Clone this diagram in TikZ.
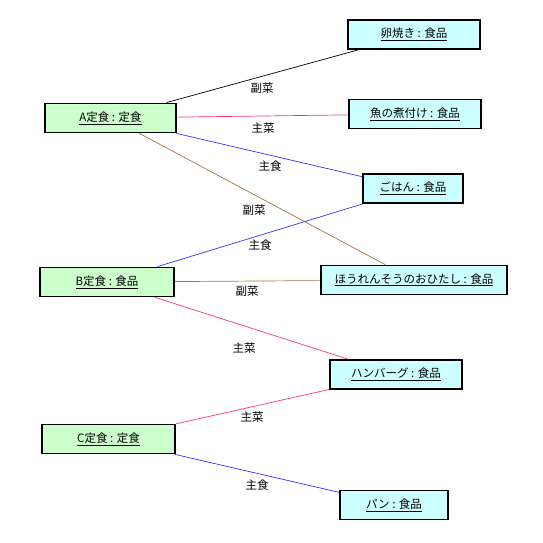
\documentclass[tikz,border=0pt]{standalone}
\usepackage{fontspec}
\newfontfamily\jp{Noto Sans CJK JP}
\definecolor{ctgreen}{HTML}{CCFFCC}
\definecolor{ctcyan}{HTML}{CCFFFF}
\definecolor{lnpink}{HTML}{FF3377}
\definecolor{lnblue}{HTML}{3333FF}
\definecolor{lnbrown}{HTML}{A07840}
\begin{document}
\begin{tikzpicture}[x=1pt,y=-1pt,
  obj/.style={draw=black,line width=1.8pt,minimum height=29pt,inner sep=0pt,font=\jp\fontsize{11.5}{13}\selectfont},
  setobj/.style={obj,fill=ctgreen},
  foodobj/.style={obj,fill=ctcyan},
  lbl/.style={font=\jp\fontsize{11.5}{13}\selectfont,inner sep=1pt},
  link/.style={line width=0.7pt}]
\useasboundingbox (0,0) rectangle (543,543);
\fill[white] (0,0) rectangle (543,543);
% set menus
\node[setobj,minimum width=131pt] (A) at (110.5,118) {\underline{A定食 : 定食}};
\node[setobj,minimum width=134pt] (B) at (107,282) {\underline{B定食 : 食品}};
\node[setobj,minimum width=133pt] (C) at (108.5,439) {\underline{C定食 : 定食}};
% foods
\node[foodobj,minimum width=132pt] (tam) at (414,34.5) {\underline{卵焼き : 食品}};
\node[foodobj,minimum width=132pt] (sak) at (415,114) {\underline{魚の煮付け : 食品}};
\node[foodobj,minimum width=100pt] (goh) at (413,188.5) {\underline{ごはん : 食品}};
\node[foodobj,minimum width=186pt] (hor) at (414,280) {\underline{ほうれんそうのおひたし : 食品}};
\node[foodobj,minimum width=132pt] (ham) at (396,374.5) {\underline{ハンバーグ : 食品}};
\node[foodobj,minimum width=108pt] (pan) at (394,505) {\underline{パン : 食品}};
% links
\draw[link,black] (A) -- (tam);
\draw[link,lnpink] (A) -- (sak);
\draw[link,lnblue] (A) -- (goh);
\draw[link,lnbrown] (A) -- (hor);
\draw[link,lnblue] (B) -- (goh);
\draw[link,lnbrown] (B) -- (hor);
\draw[link,lnpink] (B) -- (ham);
\draw[link,lnpink] (C) -- (ham);
\draw[link,lnblue] (C) -- (pan);
% labels
\node[lbl] (l1) at (262,88) {副菜};
\node[lbl] (l2) at (263,128) {主菜};
\node[lbl] (l3) at (270,166) {主食};
\node[lbl] (l4) at (254,210) {副菜};
\node[lbl] (l5) at (260,245) {主食};
\node[lbl] (l6) at (247,291) {副菜};
\node[lbl] (l7) at (244,348) {主菜};
\node[lbl] (l8) at (252,417) {主菜};
\node[lbl] (l9) at (257,485) {主食};
\end{tikzpicture}
\end{document}
